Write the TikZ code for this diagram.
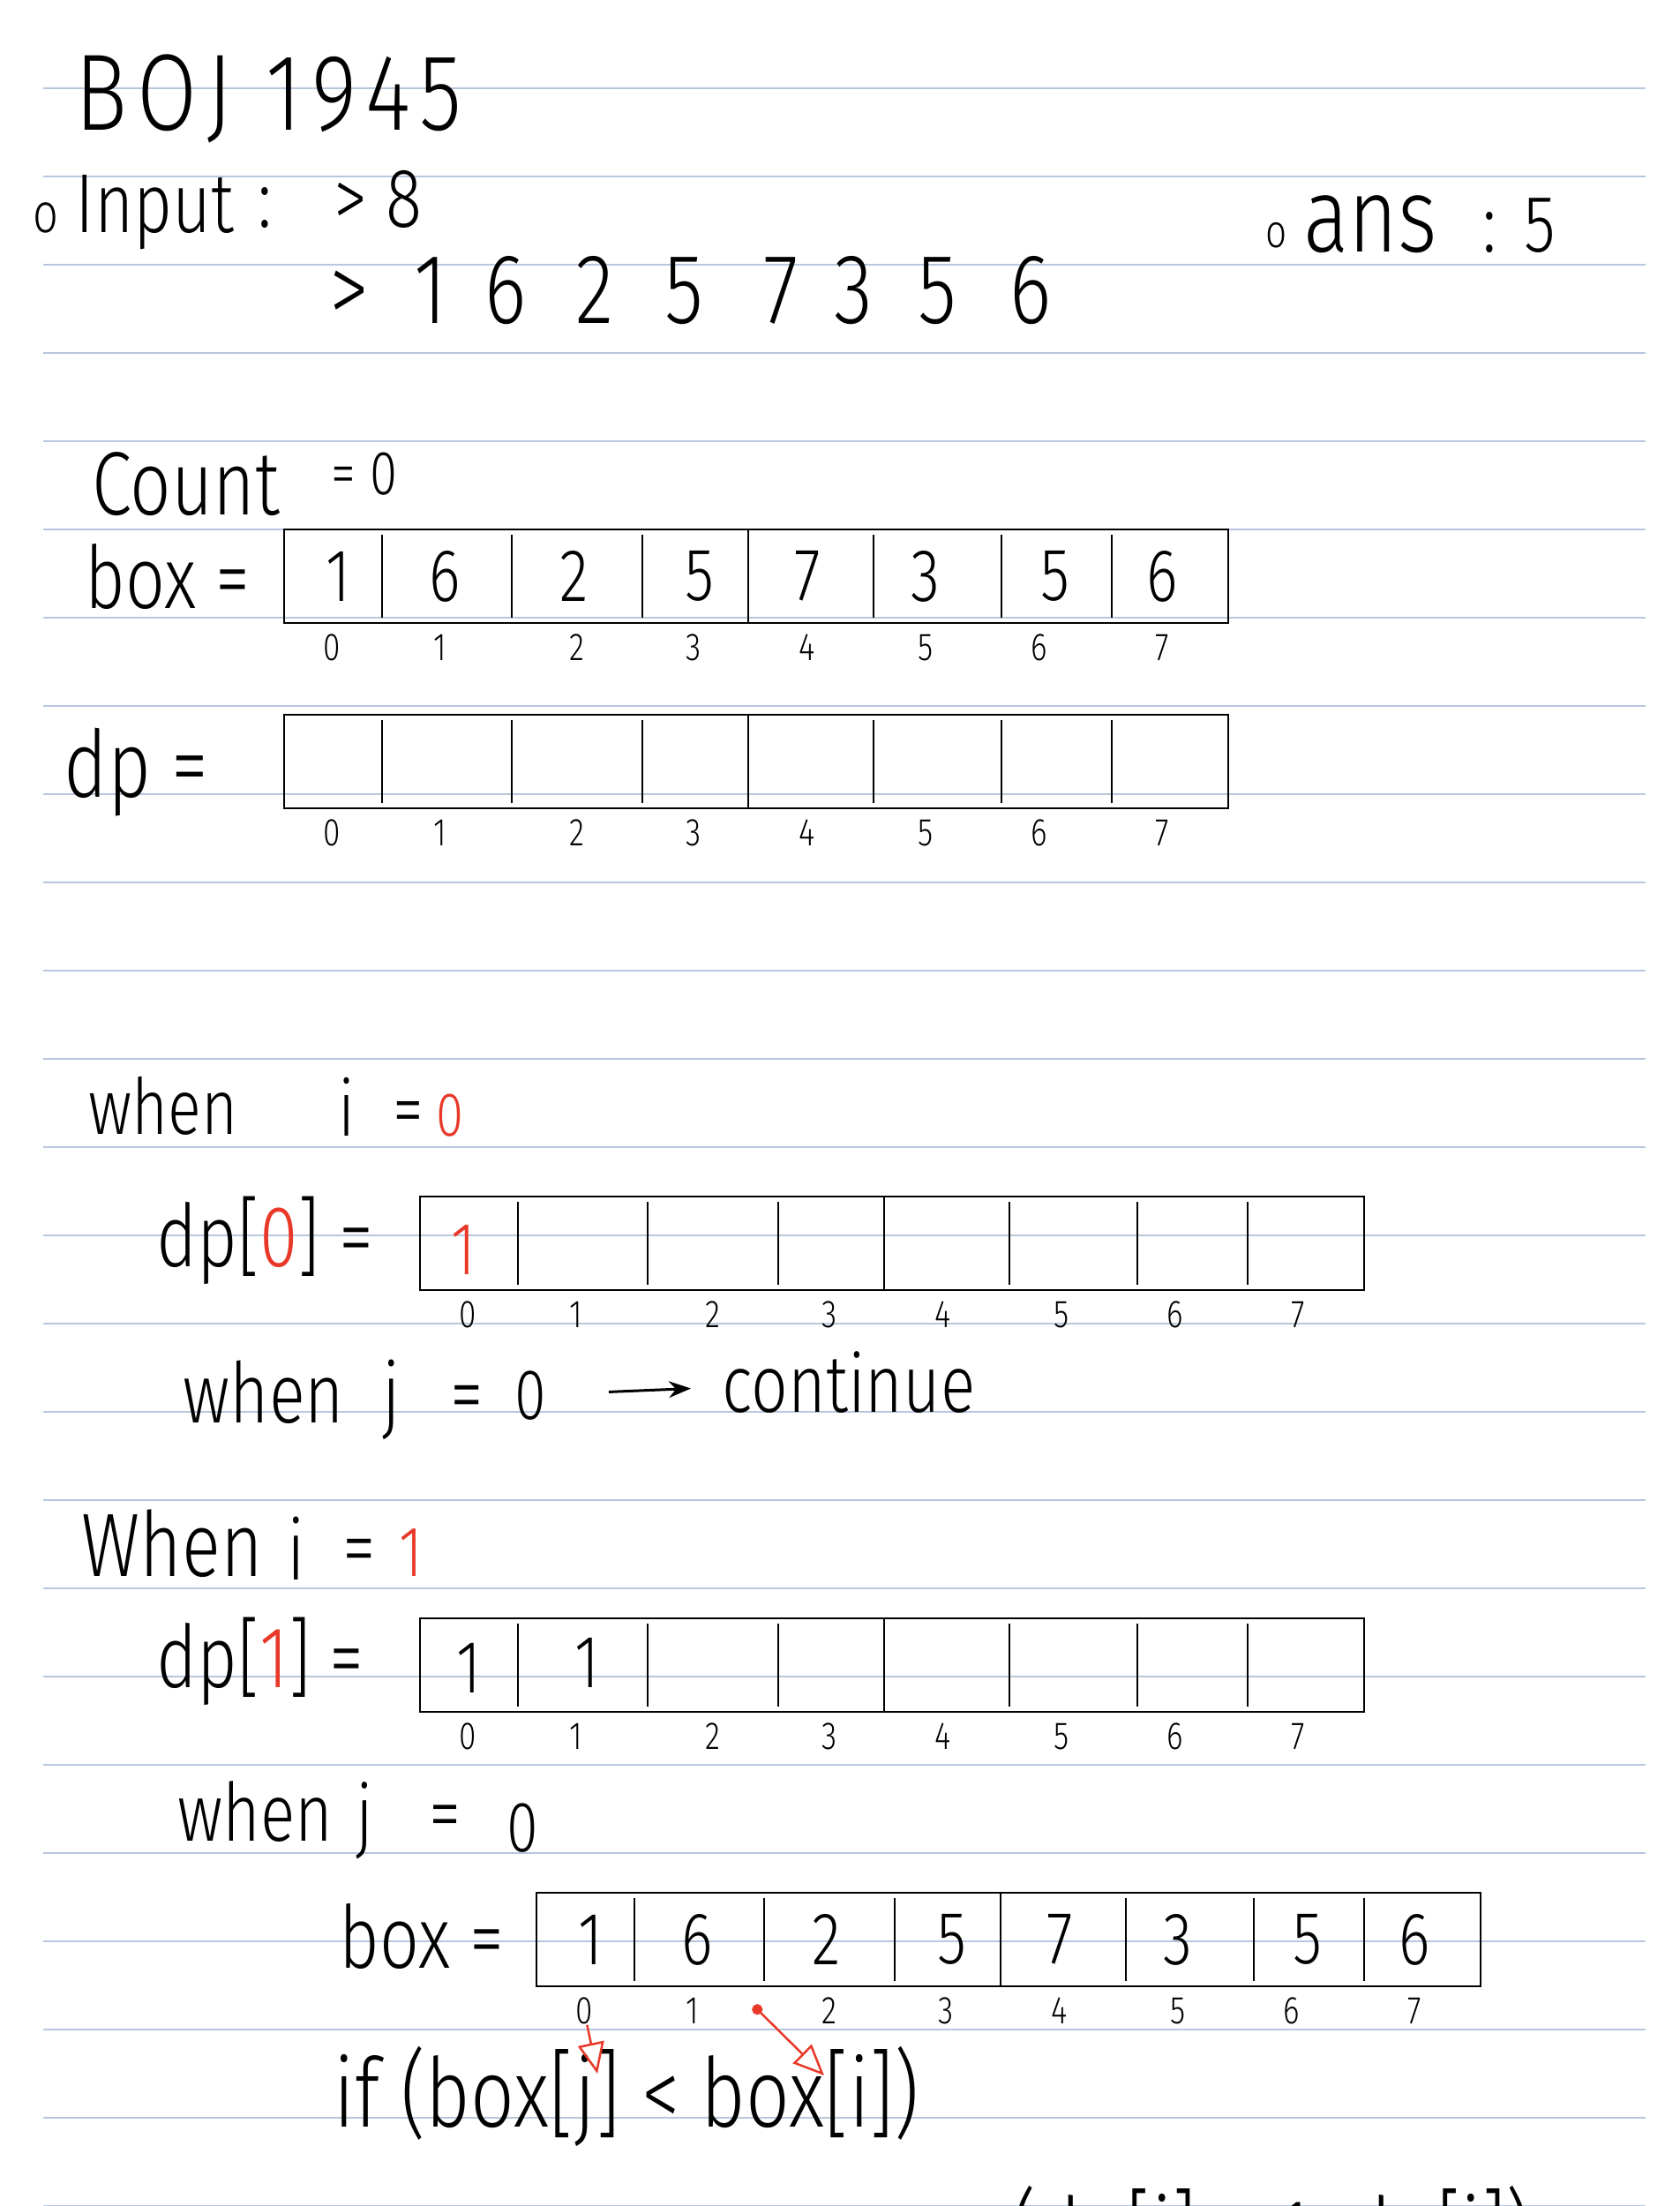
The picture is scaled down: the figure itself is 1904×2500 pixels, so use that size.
\documentclass[tikz,border=0pt]{standalone}
\usepackage{fontspec}
\setmainfont{Fira Sans Light}[FakeStretch=0.8]
\newfontfamily\spaced{Fira Sans Light}[FakeStretch=0.8, LetterSpace=9]
\usetikzlibrary{arrows.meta}
\definecolor{rulecol}{RGB}{183,199,222}
\definecolor{hred}{RGB}{232,56,40}
\newcommand\hsz[1]{\fontsize{#1}{#1}\selectfont}

\begin{document}
\begin{tikzpicture}[x=0.01cm,y=-0.01cm,
  rule/.style={draw=rulecol, line width=0.02cm},
  hand/.style={inner sep=0pt, anchor=base west},
  cell/.style={inner sep=0pt, font=\hsz{24}},
  idx/.style={inner sep=0pt, font=\hsz{12.5}},
  frame/.style={line width=0.025cm},
  divider/.style={line width=0.02cm},
  redarrow/.style={draw=hred, line width=0.025cm, -{Triangle[open,length=0.35cm,width=0.3cm]}},
  cells/.pic={
    \draw[frame] (0,0) rectangle (1070,106);
    \draw[line width=0.015cm] (526,0) -- (526,106);
    \foreach \dx in {111,258,406,668,813,938} \draw[divider] (\dx,6) -- (\dx,100);
    \foreach \x [count=\k from 0] in {54,177,332,464,593,727,856,995}
      \node[idx] (-i\k) at (\x,134) {\k};
  }]
\useasboundingbox (0,0) rectangle (1904,2500);
\foreach \r in {1,...,25} \draw[rule] (49,\r*100) -- (1865,\r*100);

% heading and input
\node[hand, font=\spaced\hsz{35}] (title) at (85,148) {BOJ 1945};
\node[hand, font=\hsz{18}] (bul1) at (37,263) {o};
\node[hand, font=\hsz{27}] (input) at (85,263) {Input};
\node[hand, font=\hsz{27}] (colon1) at (292,258) {:};
\node[hand, font=\hsz{27}] (size) at (378,258) {> 8};
\foreach \x/\v [count=\k] in {396/>,488/1,573/6,674/2,775/5,885/7,967/3,1062/5,1168/6}
  \node[hand, anchor=base, font=\hsz{32}] (seq\k) at (\x,366) {\v};
\node[hand, font=\hsz{15}] (bul2) at (1434,280) {o};
\node[hand, font=\hsz{34}] (ans) at (1477,285) {ans};
\node[hand, font=\hsz{27}] (colon2) at (1680,285) {:};
\node[hand, font=\hsz{26}] (ansval) at (1727,285) {5};

% count, box, dp
\node[hand, font=\hsz{29}] (count) at (104,583) {Count};
\node[hand, font=\hsz{20}] (countval) at (375,560) {= 0};
\node[hand, font=\hsz{28}] (boxlbl) at (96,689) {box =};
\pic (boxA) at (322,600) {cells};
\foreach \x/\v [count=\k from 0] in {61/1,182/6,329/2,471/5,593/7,727/3,874/5,995/6}
  \node[cell] (boxA-v\k) at (322+\x,653) {\v};
\node[hand, font=\hsz{30}] (dplbl) at (72,903) {dp =};
\pic (dpA) at (322,810) {cells};

% i = 0
\node[hand, font=\hsz{25}] (when0) at (100,1285) {when};
\node[hand, font=\hsz{25}] (i0) at (383,1287) {i};
\node[hand, font=\hsz{25}] (eq0) at (445,1287) {=};
\node[hand, font=\hsz{20}, text=hred] (i0val) at (494,1287) {0};
\node[hand, font=\hsz{28}] (dp0lbl) at (177,1435) {dp[\textcolor{hred}{0}] =};
\pic (dpB) at (476,1356) {cells};
\node[cell, text=hred] (dpB-v0) at (525,1416) {1};
\node[hand, font=\hsz{27}] (when1) at (207,1612) {when};
\node[hand, font=\hsz{27}] (j1) at (433,1612) {j};
\node[hand, font=\hsz{27}] (eq1) at (510,1612) {=};
\node[hand, font=\hsz{23}] (j1val) at (583,1608) {0};
\node[hand, font=\hsz{26}] (cont) at (818,1600) {continue};
\draw[-{Stealth[length=0.25cm]}, line width=0.03cm, shorten <=0.7cm, shorten >=0.35cm] (j1val) -- (cont);

% i = 1
\node[hand, font=\hsz{29}] (when2) at (92,1786) {When};
\node[hand, font=\hsz{27}] (i1) at (325,1790) {i};
\node[hand, font=\hsz{27}] (eq2) at (388,1786) {=};
\node[hand, font=\hsz{23}, text=hred] (i1val) at (452,1786) {1};
\node[hand, font=\hsz{28}] (dp1lbl) at (177,1912) {dp[\textcolor{hred}{1}] =};
\pic (dpC) at (476,1834) {cells};
\node[cell] (dpC-v0) at (531,1890) {1};
\node[cell] (dpC-v1) at (665,1884) {1};
\node[hand, font=\hsz{26}] (when3) at (201,2086) {when};
\node[hand, font=\hsz{26}] (j2) at (403,2088) {j};
\node[hand, font=\hsz{26}] (eq3) at (486,2086) {=};
\node[hand, font=\hsz{23}] (j2val) at (574,2098) {0};
\node[hand, font=\hsz{28}] (boxlbl2) at (384,2230) {box =};
\pic (boxB) at (608,2145) {cells};
\foreach \x/\v [count=\k from 0] in {61/1,182/6,329/2,471/5,593/7,727/3,874/5,995/6}
  \node[cell] (boxB-v\k) at (608+\x,2198) {\v};
\node[hand, font=\hsz{31}] (cond) at (378,2410) {if (box[j] < box[i])};
\coordinate (jtip) at (677,2350);
\coordinate (istart) at (854,2273);
\coordinate (itip) at (934,2352);
\draw[redarrow] (boxB-i0) -- (jtip);
\draw[redarrow, {Circle[length=0.12cm]}-{Triangle[open,length=0.35cm,width=0.3cm]}] (istart) -- (itip);
\node[inner sep=0pt, anchor=base east, font=\hsz{31}] (update) at (1736,2568) {max(dp[j] + 1, dp[i])};
\end{tikzpicture}
\end{document}
